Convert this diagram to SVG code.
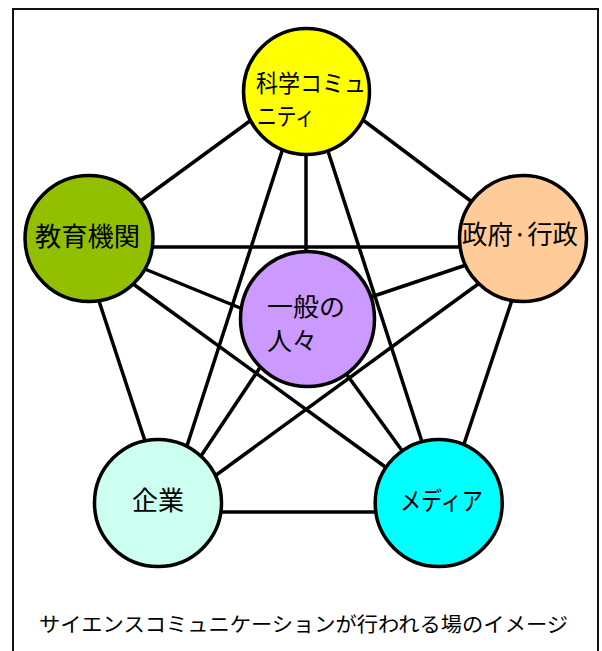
<svg xmlns="http://www.w3.org/2000/svg" width="602" height="651" viewBox="0 0 602 651">
<style>
.frame{fill:none;stroke:#111;stroke-width:2}
.edge{stroke:#000;stroke-width:3.5;fill:none}
.node{stroke:#000;stroke-width:3.5}
.lbl{font-family:"Noto Sans CJK JP","Noto Sans",sans-serif;fill:#000}
</style>
<rect x="0" y="0" width="602" height="651" fill="#fff"/>
<path class="frame" d="M13,651 V9 H598 V651"/>
<g id="connectors">
<line class="edge" x1="258" y1="115" x2="135" y2="205"/>
<line class="edge" x1="355" y1="114" x2="480" y2="208"/>
<line class="edge" x1="306" y1="150" x2="306" y2="260"/>
<line class="edge" x1="284" y1="145" x2="185" y2="452"/>
<line class="edge" x1="326" y1="145" x2="424" y2="448"/>
<line class="edge" x1="140" y1="247" x2="470" y2="247"/>
<line class="edge" x1="135" y1="265" x2="250" y2="312"/>
<line class="edge" x1="97" y1="295" x2="147" y2="447"/>
<line class="edge" x1="125" y1="278" x2="395" y2="474"/>
<line class="edge" x1="478" y1="261" x2="365" y2="299"/>
<line class="edge" x1="485" y1="279" x2="208" y2="481"/>
<line class="edge" x1="514" y1="294" x2="462" y2="450"/>
<line class="edge" x1="263" y1="363" x2="197" y2="462"/>
<line class="edge" x1="342" y1="368" x2="406" y2="456"/>
<line class="edge" x1="215" y1="512" x2="385" y2="512"/>
</g>
<g id="node-science">
<ellipse class="node" cx="306.5" cy="91.5" rx="63" ry="63" fill="#FFFF00"/>
<text class="lbl" x="256" y="92" font-size="24" textLength="110" lengthAdjust="spacingAndGlyphs">科学コミュ</text>
<text class="lbl" x="257" y="125" font-size="24" textLength="58" lengthAdjust="spacingAndGlyphs">ニティ</text>
</g>
<g id="node-education">
<ellipse class="node" cx="89" cy="238.5" rx="64" ry="63" fill="#92C000"/>
<text class="lbl" x="35" y="246" font-size="26" textLength="105" lengthAdjust="spacingAndGlyphs">教育機関</text>
</g>
<g id="node-government">
<ellipse class="node" cx="523" cy="238.5" rx="63.5" ry="63" fill="#FFCC99"/>
<text class="lbl" x="462" y="244" font-size="26" textLength="116" lengthAdjust="spacingAndGlyphs">政府·行政</text>
</g>
<g id="node-public">
<ellipse class="node" cx="307.5" cy="319" rx="67" ry="67.5" fill="#CC99FF"/>
<text class="lbl" x="267" y="316" font-size="25" textLength="78" lengthAdjust="spacingAndGlyphs">一般の</text>
<text class="lbl" x="267" y="350" font-size="25">人々</text>
</g>
<g id="node-company">
<ellipse class="node" cx="158" cy="503" rx="63.5" ry="63.5" fill="#CCFFF0"/>
<text class="lbl" x="132" y="510" font-size="26" textLength="52" lengthAdjust="spacingAndGlyphs">企業</text>
</g>
<g id="node-media">
<ellipse class="node" cx="438.7" cy="503" rx="63.5" ry="63.5" fill="#00FFFF"/>
<text class="lbl" x="400" y="510" font-size="25" textLength="83" lengthAdjust="spacingAndGlyphs">メディア</text>
</g>
<text class="lbl" x="39" y="632" font-size="20.5" textLength="529" lengthAdjust="spacingAndGlyphs">サイエンスコミュニケーションが行われる場のイメージ</text>
</svg>
